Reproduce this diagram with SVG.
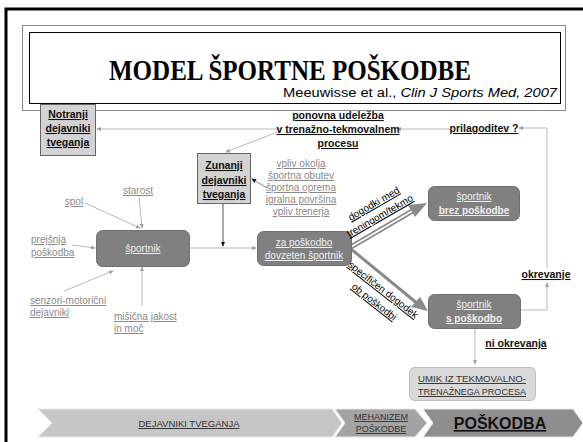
<svg xmlns="http://www.w3.org/2000/svg" width="583" height="442" viewBox="0 0 583 442">
<defs>
<style>
text{font-family:"Liberation Sans",Arial,sans-serif;}
.t{font-size:10px;text-decoration:underline;}
.g{fill:#8a8a8a;}
.b{font-weight:bold;font-size:10.5px;fill:#111;text-decoration:underline;}
.w{fill:#f0f0f0;font-size:10px;text-decoration:underline;}
.ln{stroke:#b8b8b8;stroke-width:1;fill:none;}
.node{fill:#808080;stroke:#707070;stroke-width:1;}
.box{fill:#d3d3d3;stroke:#666;stroke-width:1;}
</style>
<marker id="a" viewBox="0 0 6 6" refX="5" refY="3" markerWidth="5" markerHeight="5" orient="auto"><path d="M0,0.5 L6,3 L0,5.5 z" fill="#a0a0a0"/></marker>
<marker id="ak" viewBox="0 0 6 6" refX="5" refY="3" markerWidth="5" markerHeight="5" orient="auto"><path d="M0,0.5 L6,3 L0,5.5 z" fill="#111"/></marker>
</defs>
<rect width="583" height="442" fill="#fff"/>
<!-- slide frame -->
<path d="M6,442 V9 H583" fill="none" stroke="#000" stroke-width="3"/>
<!-- title -->
<g id="title">
<rect x="22.5" y="25.5" width="543" height="85" fill="#fff" stroke="#888" stroke-width="1"/>
<rect x="29.5" y="32.5" width="531" height="71" fill="#fff" stroke="#000" stroke-width="1"/>
<text x="290" y="80" text-anchor="middle" style="font-family:'Liberation Serif',serif" font-weight="bold" font-size="29" textLength="362" lengthAdjust="spacingAndGlyphs">MODEL ŠPORTNE POŠKODBE</text>
<text x="557" y="97" text-anchor="end" font-size="12" textLength="274" lengthAdjust="spacingAndGlyphs">Meeuwisse et al., <tspan font-style="italic">Clin J Sports Med, 2007</tspan></text>
</g>
<!-- connectors -->
<g id="connectors">
<path class="ln" d="M547,268 V128 H519" marker-end="url(#a)"/>
<path class="ln" d="M521,310 H547 V283" marker-end="url(#a)"/>
<path class="ln" d="M450,129 H397" marker-end="url(#a)"/>
<path class="ln" d="M282,129 H97" marker-end="url(#a)"/>
<path class="ln" d="M280,131 L226,152" marker-end="url(#a)"/>
<path d="M267,188 L252,179" stroke="#888" fill="none" marker-end="url(#ak)"/>
<path d="M223,203 V246" stroke="#555" fill="none" marker-end="url(#ak)"/>
<path class="ln" d="M189,248 H256" marker-end="url(#a)"/>
<path class="ln" d="M85,203 L140,228" marker-end="url(#a)"/>
<path class="ln" d="M139,197 L142,228" marker-end="url(#a)"/>
<path class="ln" d="M72,245 L95,248" marker-end="url(#a)"/>
<path class="ln" d="M64,291 L113,271" marker-end="url(#a)"/>
<path class="ln" d="M142,306 V267" marker-end="url(#a)"/>
<path class="ln" d="M475,328 V364" marker-end="url(#a)"/>
<!-- double arrow to brez poskodbe -->
<path d="M351,247 L414,210" stroke="#8a8a8a" stroke-width="5" fill="none"/>
<path d="M351,247 L414,210" stroke="#fff" stroke-width="1.5" fill="none"/>
<path d="M427,203 L408,205 L415,217 z" fill="#8a8a8a"/>
<!-- single thick arrow to s poskodbo -->
<path d="M351,249 L418,304" stroke="#8a8a8a" stroke-width="3" fill="none"/>
<path d="M428,311 L411,307 L420,297 z" fill="#8a8a8a"/>
</g>
<!-- nodes -->
<g id="notranji">
<rect class="box" x="40.5" y="104.5" width="55" height="51"/>
<text class="b" x="68" y="118" text-anchor="middle">Notranji</text>
<text class="b" x="68" y="132" text-anchor="middle">dejavniki</text>
<text class="b" x="68" y="146" text-anchor="middle">tveganja</text>
</g>
<g id="ponovna">
<text class="b" x="338" y="119" text-anchor="middle">ponovna udeležba</text>
<text class="b" x="338" y="133" text-anchor="middle">v trenažno-tekmovalnem</text>
<text class="b" x="338" y="147" text-anchor="middle">procesu</text>
</g>
<g id="prilagoditev">
<text class="b" x="484" y="132" text-anchor="middle">prilagoditev ?</text>
</g>
<g id="zunanji">
<rect class="box" x="197.5" y="153.5" width="53" height="50"/>
<text class="b" x="224" y="169" text-anchor="middle">Zunanji</text>
<text class="b" x="224" y="184" text-anchor="middle">dejavniki</text>
<text class="b" x="224" y="198" text-anchor="middle">tveganja</text>
</g>
<g id="zunanji-dejavniki">
<text class="t g" x="301" y="167" text-anchor="middle" font-size="9">vpliv okolja</text>
<text class="t g" x="301" y="179" text-anchor="middle" font-size="9">športna obutev</text>
<text class="t g" x="301" y="191" text-anchor="middle" font-size="9">športna oprema</text>
<text class="t g" x="301" y="203" text-anchor="middle" font-size="9">igralna površina</text>
<text class="t g" x="301" y="215" text-anchor="middle" font-size="9">vpliv trenerja</text>
</g>
<g id="starost"><text class="t g" x="138" y="194" text-anchor="middle">starost</text></g>
<g id="spol"><text class="t g" x="74" y="205" text-anchor="middle">spol</text></g>
<g id="prejsnja">
<text class="t g" x="31" y="243">prejšnja</text>
<text class="t g" x="31" y="256">poškodba</text>
</g>
<g id="senzori">
<text class="t g" x="30" y="304">senzori-motorični</text>
<text class="t g" x="30" y="316">dejavniki</text>
</g>
<g id="misicna">
<text class="t g" x="114" y="320">mišična jakost</text>
<text class="t g" x="114" y="332">in moč</text>
</g>
<g id="sportnik">
<rect class="node" x="96.5" y="230.5" width="93" height="36" rx="6"/>
<text class="w" x="143" y="252" text-anchor="middle">športnik</text>
</g>
<g id="dovzeten">
<rect class="node" x="257.5" y="231.5" width="94" height="34" rx="6"/>
<text class="w" x="304" y="246" text-anchor="middle">za poškodbo</text>
<text class="w" x="304" y="259" text-anchor="middle">dovzeten športnik</text>
</g>
<g id="brez">
<rect class="node" x="428.5" y="186.5" width="91" height="34" rx="6"/>
<text class="w" x="474" y="200" text-anchor="middle">športnik</text>
<text class="w" x="474" y="214" text-anchor="middle" font-weight="bold">brez poškodbe</text>
</g>
<g id="s-poskodbo">
<rect class="node" x="428.5" y="294.5" width="92" height="34" rx="6"/>
<text class="w" x="474" y="308" text-anchor="middle">športnik</text>
<text class="w" x="474" y="322" text-anchor="middle" font-weight="bold">s poškodbo</text>
</g>
<g id="dogodki">
<text class="t" font-size="9" text-anchor="middle" transform="translate(374,204) rotate(-30)" y="3">dogodki med</text>
<text class="t" font-size="9" text-anchor="middle" transform="translate(380,216) rotate(-30)" y="3">treningom/tekmo</text>
</g>
<g id="specificen">
<text class="t" font-size="9" text-anchor="middle" transform="translate(383,290) rotate(38)" y="3">specifičen dogodek</text>
<text class="t" font-size="9" text-anchor="middle" transform="translate(374,302) rotate(38)" y="3">ob poškodbi</text>
</g>
<g id="okrevanje"><text class="b" x="546" y="278" text-anchor="middle">okrevanje</text></g>
<g id="ni-okrevanja"><text class="b" x="516" y="347" text-anchor="middle">ni okrevanja</text></g>
<g id="umik">
<rect x="409.5" y="367.5" width="126" height="33" rx="5" fill="#d9d9d9" stroke="#bdbdbd"/>
<text x="472" y="382" text-anchor="middle" font-size="9.5" fill="#333" text-decoration="underline" textLength="108" lengthAdjust="spacingAndGlyphs">UMIK IZ TEKMOVALNO-</text>
<text x="472" y="395" text-anchor="middle" font-size="9.5" fill="#333" text-decoration="underline" textLength="108" lengthAdjust="spacingAndGlyphs">TRENAŽNEGA PROCESA</text>
</g>
<!-- bottom chevrons -->
<g id="chevron-dejavniki">
<path d="M38,409 H332 L342,423 L332,437 H38 L52,423 z" fill="#c6c6c6" stroke="#e8e8e8"/>
<text x="189" y="427" text-anchor="middle" font-size="9.5" fill="#333" text-decoration="underline">DEJAVNIKI TVEGANJA</text>
</g>
<g id="chevron-mehanizem">
<path d="M335,409 H415 L427,423 L415,437 H335 L345,423 z" fill="#a3a3a3" stroke="#e8e8e8"/>
<text x="381" y="420" text-anchor="middle" font-size="9" fill="#333" text-decoration="underline">MEHANIZEM</text>
<text x="381" y="432" text-anchor="middle" font-size="9" fill="#333" text-decoration="underline">POŠKODBE</text>
</g>
<g id="chevron-poskodba">
<path d="M423,409 H573 L583,423 L573,437 H423 L433,423 z" fill="#8e8e8e" stroke="#e8e8e8"/>
<text x="500" y="429" text-anchor="middle" font-size="16" font-weight="bold" fill="#111" text-decoration="underline">POŠKODBA</text>
</g>
</svg>
